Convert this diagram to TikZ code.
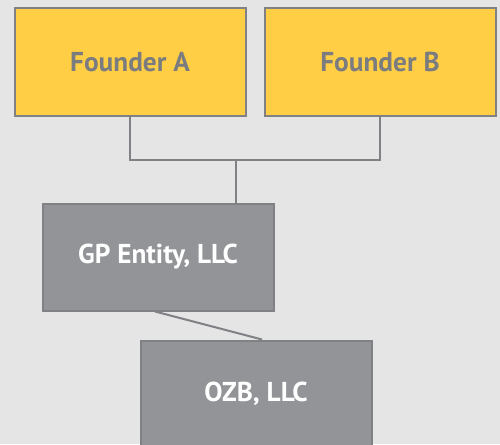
\documentclass[tikz,border=0pt]{standalone}
\usepackage{fontspec}
\setmainfont{PT Sans}
\definecolor{bg}{HTML}{E5E5E5}
\definecolor{yel}{HTML}{FFCE44}
\definecolor{edge}{HTML}{7F8185}
\definecolor{gbox}{HTML}{929497}
\definecolor{tgray}{HTML}{7A7C80}
\tikzset{
  box/.style={draw=edge, line width=2pt, minimum width=231pt, minimum height=107pt, inner sep=0pt, font=\fontsize{27.3}{30}\selectfont\bfseries},
  founder/.style={box, fill=yel, text=tgray},
  entity/.style={box, fill=gbox, text=white},
  conn/.style={draw=edge, line width=2pt}
}
\begin{document}
\begin{tikzpicture}[x=1pt,y=-1pt]
\fill[bg] (0,0) rectangle (500,444);
\useasboundingbox (0,0) rectangle (500,444);
\node[founder] (fa) at (130,62) {Founder A};
\node[founder] (fb) at (380,62) {Founder B};
\node[entity] (gp) at (158,257) {GP Entity, LLC};
\node[entity] (ozb) at (256,394) {OZB, LLC};
\coordinate (j) at (236,160);
\draw[conn] (fa.south) -- (fa.south |- j) -- (fb.south |- j) -- (fb.south);
\draw[conn] (j) -- (j |- gp.north);
\draw[conn] ([xshift=-3pt]gp.south) -- ([xshift=6pt]ozb.north);
\end{tikzpicture}
\end{document}
